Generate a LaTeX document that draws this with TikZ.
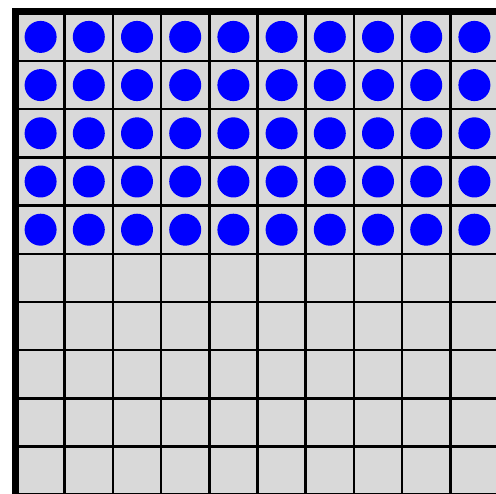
\documentclass[tikz,border=0pt]{standalone}
\usepackage{xcolor}
\usepackage{tikz}
\definecolor{cellgray}{HTML}{D9D9D9}
\definecolor{dotblue}{HTML}{0000FF}

\begin{document}
\begin{tikzpicture}[
  x=0.02cm, y=-0.02cm,
  cell/.style={rectangle, draw=black, fill=cellgray, line width=0.05cm, minimum size=0.964cm, inner sep=0pt},
  token/.style={circle, fill=dotblue, minimum size=0.64cm, inner sep=0pt},
  frame/.style={draw=black, line width=0.14cm},
]

  \useasboundingbox (0,0) rectangle (496,493);
  \clip (0,0) rectangle (496,493);

  \foreach \r in {0,...,9}
    \foreach \c in {0,...,9}
      \node[cell] (cell-\r-\c) at ({40.6+48.2*\c},{36.9+48.2*\r}) {};

  \foreach \r in {0,...,4}
    \foreach \c in {0,...,9}
      \node[token] (tok-\r-\c) at (cell-\r-\c) {};

  \draw[frame] (cell-0-0.north west) rectangle (cell-9-9.south east);

\end{tikzpicture}
\end{document}
